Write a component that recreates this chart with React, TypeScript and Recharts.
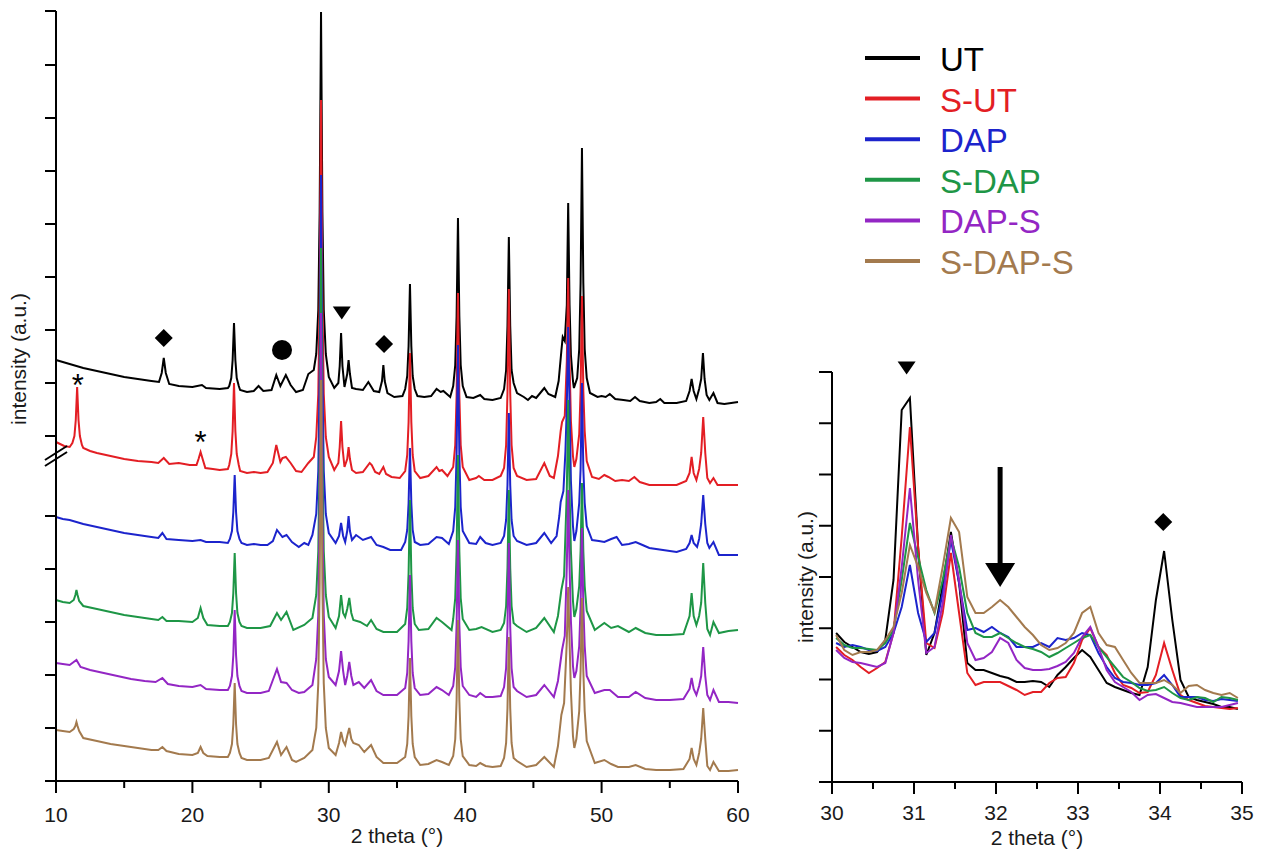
import React from 'react';
import { LineChart, Line, XAxis, YAxis, ReferenceDot, ReferenceLine, Legend } from 'recharts';

type Pt = [number, number];

const FONT = '"Liberation Sans", Arial, Helvetica, sans-serif';

const seriesNames = ['UT', 'S-UT', 'DAP', 'S-DAP', 'DAP-S', 'S-DAP-S'];
const seriesColors = ['#000000', '#e31e24', '#1c24cc', '#1e9646', '#9326c4', '#a37a4e'];

// ---------- full pattern (left panel), stacked traces, intensity in a.u. ----------
const utFull: Pt[] = [[10.0,421],[10.5,419],[11.0,417],[12.0,413],[13.0,410],[14.0,407],[15.0,404],[16.0,402],[17.0,400],[17.55,399],[17.75,408],[17.9,423],[18.05,408],[18.3,397],[19.0,395],[20.0,394],[20.7,396],[21.0,393],[22.0,392],[22.6,393],[22.7,395],[22.85,403],[22.95,421],[23.05,458],[23.15,421],[23.25,403],[23.4,395],[23.5,391],[24.0,389],[24.5,390],[24.85,395],[25.2,390],[25.8,391],[26.15,406],[26.45,395],[26.85,406],[27.2,396],[27.6,389],[28.1,391],[28.5,407],[28.9,411],[29.08,427],[29.23,471],[29.33,569],[29.43,769],[29.53,569],[29.63,471],[29.78,427],[30.0,404],[30.4,393],[30.7,398],[30.8,415],[30.9,448],[31.0,415],[31.15,394],[31.35,407],[31.45,421],[31.55,407],[31.7,393],[32.0,392],[32.5,391],[32.9,399],[33.3,390],[33.7,389],[33.9,400],[34.0,416],[34.1,400],[34.3,388],[34.8,384],[35.4,385],[35.6,392],[35.75,405],[35.85,435],[35.95,497],[36.05,435],[36.15,405],[36.3,392],[36.5,385],[37.0,384],[37.5,385],[37.9,392],[38.2,389],[38.4,390],[38.9,384],[39.12,395],[39.27,416],[39.37,465],[39.47,563],[39.57,465],[39.67,416],[39.82,395],[40.1,384],[40.6,383],[41.1,386],[41.4,382],[42.0,381],[42.6,383],[42.85,392],[43.0,411],[43.1,455],[43.2,544],[43.3,455],[43.4,411],[43.55,398],[43.8,388],[44.3,384],[44.6,381],[44.9,385],[45.2,383],[45.5,388],[45.8,393],[46.1,387],[46.6,384],[46.85,400],[47.05,430],[47.15,444],[47.3,440],[47.45,476],[47.55,578],[47.65,476],[47.75,426],[47.9,400],[47.97,393],[48.21,403],[48.36,432],[48.46,498],[48.56,633],[48.66,498],[48.76,432],[48.91,403],[49.15,388],[49.7,384],[50.0,385],[50.3,384],[50.6,387],[51.0,382],[51.6,381],[52.1,380],[52.45,384],[52.8,380],[53.5,378],[54.0,379],[54.3,382],[54.6,378],[55.5,378],[56.2,380],[56.45,390],[56.6,402],[56.75,390],[56.95,382],[57.15,392],[57.3,402],[57.43,428],[57.55,402],[57.7,386],[57.9,381],[58.2,388],[58.5,378],[59.0,377],[59.5,378],[60.0,379]];

const sutFull: Pt[] = [[10.0,339],[10.3,337],[10.6,335],[11.0,334],[11.2,338],[11.35,345],[11.45,361],[11.55,394],[11.65,361],[11.75,345],[11.9,336],[12.0,333],[12.5,330],[13.0,328],[14.0,325],[15.0,322],[16.0,320],[17.0,319],[17.5,318],[17.9,323],[18.3,317],[19.0,318],[19.8,316],[20.3,316],[20.45,322],[20.6,329],[20.75,322],[20.95,313],[21.5,312],[22.0,311],[22.6,312],[22.7,316],[22.85,327],[22.95,350],[23.05,398],[23.15,350],[23.25,327],[23.4,316],[23.5,310],[24.0,308],[24.5,309],[25.0,308],[25.5,309],[25.9,318],[26.15,336],[26.45,319],[26.6,323],[26.85,324],[27.2,318],[27.6,310],[28.0,309],[28.5,318],[28.9,324],[29.08,344],[29.23,387],[29.33,484],[29.43,681],[29.53,484],[29.63,387],[29.78,344],[30.0,324],[30.4,311],[30.7,318],[30.8,334],[30.9,360],[31.0,334],[31.15,314],[31.35,322],[31.45,334],[31.55,322],[31.7,311],[32.0,308],[32.5,309],[33.0,318],[33.15,316],[33.4,309],[33.7,307],[34.0,314],[34.2,307],[34.6,304],[35.2,303],[35.6,310],[35.75,326],[35.85,359],[35.95,428],[36.05,359],[36.15,326],[36.3,310],[36.7,303],[37.3,305],[37.9,314],[38.1,310],[38.3,311],[38.7,305],[39.12,314],[39.27,336],[39.37,386],[39.47,488],[39.57,386],[39.67,336],[39.82,314],[40.3,301],[40.8,303],[41.0,305],[41.4,301],[42.0,301],[42.6,305],[42.85,313],[43.0,336],[43.1,388],[43.2,492],[43.3,388],[43.4,336],[43.55,313],[43.8,305],[44.5,301],[45.2,302],[45.8,318],[46.2,305],[46.5,303],[46.8,325],[47.0,350],[47.1,359],[47.3,365],[47.45,420],[47.55,503],[47.65,420],[47.75,360],[47.9,325],[48.0,314],[48.15,322],[48.36,347],[48.46,390],[48.56,485],[48.66,390],[48.76,350],[48.91,320],[49.3,304],[49.8,302],[50.2,306],[50.5,304],[51.0,300],[51.5,301],[52.0,300],[52.4,304],[52.8,299],[53.5,296],[54.5,296],[55.5,296],[56.2,300],[56.45,308],[56.6,324],[56.75,308],[56.95,301],[57.15,312],[57.3,328],[57.45,364],[57.6,328],[57.75,303],[57.95,298],[58.2,303],[58.5,296],[59.0,296],[60.0,296]];

const dapFull: Pt[] = [[10.0,264],[10.5,262],[11.0,261],[12.0,257],[13.0,254],[14.0,251],[15.0,248],[16.0,246],[17.0,244],[17.5,243],[17.8,248],[18.1,242],[19.0,241],[20.0,240],[20.6,241],[21.0,239],[22.0,239],[22.6,238],[22.75,242],[22.9,250],[23.0,269],[23.1,306],[23.2,269],[23.3,250],[23.45,242],[23.6,238],[24.0,236],[24.5,237],[25.0,236],[25.5,236],[25.9,240],[26.2,251],[26.6,244],[26.9,246],[27.3,239],[27.8,234],[28.2,238],[28.5,236],[28.8,246],[29.08,267],[29.23,310],[29.33,407],[29.43,606],[29.53,407],[29.63,310],[29.78,267],[30.0,248],[30.5,238],[30.75,245],[30.9,258],[31.05,245],[31.2,239],[31.35,250],[31.45,265],[31.55,250],[31.7,241],[32.0,246],[32.5,241],[33.1,244],[33.5,236],[34.0,234],[34.5,231],[35.3,231],[35.6,239],[35.75,251],[35.85,278],[35.95,333],[36.05,278],[36.15,251],[36.3,239],[36.7,236],[37.3,237],[37.9,244],[38.3,243],[38.8,237],[39.12,250],[39.27,274],[39.37,327],[39.47,436],[39.57,327],[39.67,274],[39.82,250],[40.3,238],[40.8,237],[41.1,244],[41.5,238],[42.0,236],[42.6,238],[42.85,245],[43.0,261],[43.1,296],[43.2,368],[43.3,296],[43.4,261],[43.55,245],[43.8,240],[44.5,236],[45.2,238],[45.8,248],[46.3,238],[46.7,245],[46.9,265],[47.0,279],[47.2,290],[47.35,330],[47.45,375],[47.55,454],[47.65,375],[47.75,300],[47.9,255],[48.0,240],[48.15,250],[48.36,278],[48.46,312],[48.56,398],[48.66,312],[48.76,278],[48.91,255],[49.3,241],[49.8,240],[50.2,239],[50.7,242],[51.1,244],[51.5,236],[52.0,237],[52.5,239],[53.0,236],[53.5,233],[54.5,231],[55.5,229],[56.2,232],[56.45,238],[56.6,246],[56.75,238],[57.0,234],[57.15,242],[57.3,257],[57.45,286],[57.6,257],[57.75,238],[57.9,233],[58.2,239],[58.6,226],[59.3,226],[60.0,226]];

const sdapFull: Pt[] = [[10.0,181],[10.5,179],[11.0,178],[11.3,181],[11.42,186],[11.5,191],[11.58,186],[11.7,180],[12.0,175],[13.0,172],[14.0,169],[15.0,166],[16.0,164],[17.0,162],[17.5,161],[17.8,164],[18.1,160],[19.0,160],[20.0,159],[20.4,163],[20.6,173],[20.8,163],[21.1,156],[22.0,155],[22.6,155],[22.75,159],[22.9,168],[23.0,188],[23.1,228],[23.2,188],[23.3,168],[23.45,159],[23.6,155],[24.0,153],[25.0,153],[25.7,155],[26.2,168],[26.5,161],[26.9,169],[27.4,151],[28.2,156],[28.8,163],[29.08,186],[29.23,230],[29.33,330],[29.43,533],[29.53,330],[29.63,230],[29.78,186],[30.0,164],[30.5,153],[30.75,165],[30.9,186],[31.05,168],[31.2,164],[31.35,172],[31.5,183],[31.65,168],[31.8,161],[32.3,159],[32.8,155],[33.1,161],[33.5,152],[34.0,149],[35.0,149],[35.6,157],[35.75,173],[35.85,208],[35.95,281],[36.05,208],[36.15,173],[36.3,157],[36.6,151],[37.3,152],[37.9,163],[38.3,159],[39.0,151],[39.12,162],[39.27,183],[39.37,230],[39.47,326],[39.57,230],[39.67,183],[39.82,162],[40.3,151],[40.8,152],[41.2,154],[42.0,149],[42.6,151],[42.85,158],[43.0,175],[43.1,213],[43.2,291],[43.3,213],[43.4,175],[43.55,158],[43.8,155],[44.5,149],[45.2,153],[45.8,163],[46.5,149],[46.8,165],[47.05,191],[47.25,205],[47.45,290],[47.55,381],[47.65,290],[47.75,230],[47.9,180],[48.0,164],[48.15,172],[48.36,195],[48.46,230],[48.56,298],[48.66,230],[48.76,195],[48.91,170],[49.5,151],[50.2,158],[50.7,153],[51.2,155],[52.0,149],[52.5,153],[53.2,148],[54.0,146],[55.0,146],[56.0,147],[56.45,165],[56.6,188],[56.75,165],[56.95,156],[57.15,165],[57.3,178],[57.45,218],[57.6,178],[57.75,152],[57.95,146],[58.2,159],[58.6,148],[59.3,150],[60.0,151]];

const dapsFull: Pt[] = [[10.0,118],[10.5,117],[11.0,116],[11.5,121],[11.8,114],[12.5,111],[13.5,108],[14.5,105],[15.5,102],[16.5,100],[17.3,99],[17.8,103],[18.2,97],[19.0,95],[20.0,94],[20.6,96],[21.0,92],[22.0,91],[22.6,91],[22.75,95],[22.9,105],[23.0,126],[23.1,171],[23.2,126],[23.3,105],[23.45,95],[23.6,90],[24.0,88],[25.0,88],[25.6,90],[26.2,112],[26.5,99],[26.9,98],[27.3,91],[27.8,88],[28.2,89],[28.8,96],[29.08,122],[29.23,166],[29.33,266],[29.43,468],[29.53,266],[29.63,166],[29.78,122],[30.0,104],[30.5,96],[30.75,110],[30.9,130],[31.05,110],[31.2,96],[31.35,105],[31.5,119],[31.65,105],[31.8,96],[32.2,99],[32.6,93],[33.1,101],[33.5,90],[34.0,86],[35.0,86],[35.6,93],[35.75,108],[35.85,140],[35.95,206],[36.05,140],[36.15,108],[36.3,93],[36.7,86],[37.3,87],[37.9,94],[38.3,91],[38.8,86],[39.12,95],[39.27,114],[39.37,156],[39.47,241],[39.57,156],[39.67,114],[39.82,95],[40.3,86],[40.8,84],[41.1,88],[41.5,84],[42.0,84],[42.6,85],[42.85,94],[43.0,113],[43.1,154],[43.2,238],[43.3,154],[43.4,113],[43.55,94],[43.8,90],[44.5,84],[45.2,86],[45.8,96],[46.5,84],[46.8,100],[47.1,131],[47.3,145],[47.45,215],[47.55,291],[47.65,215],[47.75,160],[47.9,115],[48.0,103],[48.15,110],[48.36,135],[48.46,175],[48.56,253],[48.66,175],[48.76,135],[48.91,105],[49.5,88],[50.2,91],[50.6,91],[51.2,84],[52.0,84],[52.5,89],[53.2,83],[54.0,81],[55.0,81],[56.0,82],[56.45,92],[56.6,103],[56.75,92],[56.95,86],[57.15,95],[57.3,105],[57.45,134],[57.6,105],[57.75,86],[57.95,81],[58.2,91],[58.6,79],[59.3,79],[60.0,78]];

const sdapsFull: Pt[] = [[10.0,51],[10.5,50],[11.0,49],[11.3,52],[11.42,55],[11.5,59],[11.58,55],[11.7,50],[12.0,43],[13.0,40],[14.0,37],[15.0,35],[16.0,33],[17.0,31],[17.5,31],[17.8,34],[18.1,30],[19.0,27],[20.0,26],[20.4,28],[20.6,34],[20.8,28],[21.1,25],[22.0,24],[22.6,24],[22.75,28],[22.9,37],[23.0,57],[23.1,98],[23.2,57],[23.3,37],[23.45,28],[23.6,23],[24.0,21],[25.0,21],[25.6,23],[26.2,39],[26.5,26],[26.9,34],[27.3,21],[27.6,19],[28.2,23],[28.8,31],[29.08,53],[29.23,98],[29.33,198],[29.43,401],[29.53,198],[29.63,98],[29.78,53],[30.0,33],[30.5,26],[30.75,38],[30.9,49],[31.05,40],[31.2,36],[31.35,45],[31.5,53],[31.65,42],[31.8,38],[32.2,36],[32.6,29],[33.1,36],[33.5,24],[34.0,18],[35.0,18],[35.6,24],[35.75,37],[35.85,65],[35.95,123],[36.05,65],[36.15,37],[36.3,24],[36.7,16],[37.3,17],[37.9,21],[38.3,19],[38.8,16],[39.12,25],[39.27,42],[39.37,81],[39.47,161],[39.57,81],[39.67,42],[39.82,25],[40.3,16],[40.8,15],[41.1,18],[41.5,15],[42.0,14],[42.6,15],[42.85,23],[43.0,38],[43.1,73],[43.2,144],[43.3,73],[43.4,38],[43.55,23],[43.8,20],[44.5,14],[45.2,16],[45.8,24],[46.5,14],[46.8,35],[47.05,66],[47.25,78],[47.45,140],[47.55,194],[47.65,140],[47.75,90],[47.9,45],[48.0,33],[48.15,42],[48.36,70],[48.46,110],[48.56,183],[48.66,110],[48.76,70],[48.91,40],[49.5,18],[50.2,21],[50.7,17],[51.2,14],[52.0,14],[52.5,16],[53.2,12],[54.0,11],[55.0,11],[56.0,12],[56.45,22],[56.6,33],[56.75,22],[56.95,16],[57.15,28],[57.3,42],[57.45,73],[57.6,42],[57.75,15],[57.95,11],[58.2,19],[58.6,10],[59.3,10],[60.0,11]];

const fullSeries: Pt[][] = [utFull, sutFull, dapFull, sdapFull, dapsFull, sdapsFull];

// ---------- zoomed region 30-35 deg (right panel) ----------
const zoomTheta = [30.05,30.15,30.25,30.35,30.45,30.55,30.65,30.75,30.85,30.95,31.05,31.15,31.25,31.35,31.45,31.55,31.65,31.75,31.85,31.95,32.05,32.15,32.25,32.35,32.45,32.55,32.65,32.75,32.85,32.95,33.05,33.15,33.25,33.35,33.45,33.55,33.65,33.75,33.85,33.95,34.05,34.15,34.25,34.35,34.45,34.55,34.65,34.75,34.85,34.95];
const utZoom = [149,140,135,130,128,130,142,202,372,384,235,127,149,197,250,199,119,112,112,109,106,104,100,100,101,100,95,107,115,124,132,125,112,99,95,92,89,87,115,182,231,162,102,85,82,80,78,75,75,73];
const sutZoom = [135,127,122,115,109,114,120,149,245,355,235,139,134,169,229,169,109,97,100,100,100,96,92,87,90,90,99,104,105,119,142,154,135,127,109,97,94,89,90,107,139,112,87,82,79,76,75,74,73,74];
const dapZoom = [139,135,137,135,132,131,135,149,175,217,169,140,149,189,242,199,152,154,150,155,149,145,135,135,135,139,135,144,142,144,149,147,129,115,104,100,99,97,97,99,107,97,85,85,85,82,81,83,82,81];
const sdapZoom = [144,137,134,134,133,132,139,152,202,259,225,192,169,202,245,215,169,149,145,145,149,144,139,135,133,130,125,129,134,139,144,147,135,125,115,105,100,94,91,92,95,89,84,82,85,84,80,85,84,82];
const dapsZoom = [132,124,120,119,117,115,119,149,215,294,202,129,135,179,247,202,139,122,124,130,144,139,122,114,112,112,113,116,120,129,145,155,135,112,100,95,90,82,87,88,84,80,79,77,75,75,75,75,77,79];
const sdapsZoom = [147,132,127,130,130,132,142,155,189,237,215,189,170,215,264,250,185,169,169,175,182,175,165,155,147,137,132,134,139,149,169,175,149,137,135,122,109,99,99,99,102,97,89,96,97,92,89,87,89,84];
const zoomSeries: number[][] = [utZoom, sutZoom, dapZoom, sdapZoom, dapsZoom, sdapsZoom];

// ---------- ticks ----------
const fullXTicks = [10, 15, 20, 25, 30, 35, 40, 45, 50, 55, 60];
const fullYTicks = [0, 53, 106, 159, 212, 265, 345, 398, 451, 504, 557, 610, 663, 716, 770];
const zoomXTicks = [30, 30.5, 31, 31.5, 32, 32.5, 33, 33.5, 34, 34.5, 35];
const zoomYTicks = [0, 51.25, 102.5, 153.75, 205, 256.25, 307.5, 358.75, 410];

const toPoints = (arr: Pt[]) => arr.map(([x, y]) => ({ x, y }));
const zoomPoints = (vals: number[]) => vals.map((y, i) => ({ x: zoomTheta[i], y }));

// ---------- renderers ----------
const makeXTick = (isMajor: (v: number) => boolean, labelDy: number) => (props: any) => {
  const { x, y, payload } = props;
  const major = isMajor(payload.value);
  return (
    <g>
      <line x1={x} x2={x} y1={y} y2={y + (major ? 12 : 7)} stroke="#000" strokeWidth={2} />
      {major && (
        <text x={x} y={y + labelDy} textAnchor="middle" fontSize={21} fontFamily={FONT} fill="#1a1a1a">
          {payload.value}
        </text>
      )}
    </g>
  );
};

const makeYTick = (len: number) => (props: any) => {
  const { x, y } = props;
  return <line x1={x - len} x2={x} y1={y} y2={y} stroke="#000" strokeWidth={2} />;
};

const makeYLabel = (dx: number, dyFromTop: number | null) => (props: any) => {
  const vb = props.viewBox || { x: 0, y: 0, width: 0, height: 0 };
  const cx = vb.x + dx;
  const cy = dyFromTop === null ? vb.y + vb.height / 2 : vb.y + dyFromTop;
  return (
    <text x={cx} y={cy} transform={`rotate(-90 ${cx} ${cy})`} textAnchor="middle" dominantBaseline="central" fontSize={21} fontFamily={FONT} fill="#1a1a1a">
      intensity (a.u.)
    </text>
  );
};

const makeXLabel = (baseline: number) => (props: any) => {
  const vb = props.viewBox || { x: 0, y: 0, width: 0, height: 0 };
  return (
    <text x={vb.x + vb.width / 2} y={vb.y + baseline} textAnchor="middle" fontSize={21} fontFamily={FONT} fill="#1a1a1a">
      2 theta (°)
    </text>
  );
};

const diamondShape = (p: any) => (
  <polygon points={`${p.cx},${p.cy - 9} ${p.cx + 9},${p.cy} ${p.cx},${p.cy + 9} ${p.cx - 9},${p.cy}`} fill="#000" />
);
const circleShape = (p: any) => <circle cx={p.cx} cy={p.cy} r={10} fill="#000" />;
const triangleShape = (p: any) => (
  <polygon points={`${p.cx - 9},${p.cy - 6.5} ${p.cx + 9},${p.cy - 6.5} ${p.cx},${p.cy + 6.5}`} fill="#000" />
);
const starShape = (p: any) => (
  <text x={p.cx} y={p.cy + 18} textAnchor="middle" fontSize={31} fontFamily={FONT} fill="#000">*</text>
);
const arrowHeadShape = (p: any) => (
  <polygon points={`${p.cx - 15},${p.cy - 12} ${p.cx + 15},${p.cy - 12} ${p.cx},${p.cy + 12}`} fill="#000" />
);

const renderLegend = () => (
  <svg width={250} height={260} style={{ display: 'block' }}>
    {seriesNames.map((name, i) => {
      const cy = 29 + i * 40.6;
      return (
        <g key={name}>
          <line x1={5} x2={60} y1={cy - 1} y2={cy - 1} stroke={seriesColors[i]} strokeWidth={4} />
          <text x={80} y={cy + 12} fontSize={33} fontFamily={FONT} fill={seriesColors[i]}>{name}</text>
        </g>
      );
    })}
  </svg>
);

export default function App() {
  return (
    <div style={{ position: 'absolute', left: 0, top: 0, width: 1267, height: 852, background: '#fff', overflow: 'hidden' }}>
      <div style={{ position: 'absolute', left: 0, top: 0 }}>
        <LineChart width={800} height={852} margin={{ top: 11, right: 62, bottom: 0, left: 0 }}>
          <XAxis
            type="number"
            dataKey="x"
            domain={[10, 60]}
            ticks={fullXTicks}
            interval={0}
            height={71}
            tickSize={0}
            tickMargin={0}
            tickLine={false}
            tick={makeXTick((v) => v % 10 === 0, 41)}
            axisLine={{ stroke: '#000', strokeWidth: 2 }}
            label={makeXLabel(62)}
          />
          <YAxis
            type="number"
            domain={[0, 770]}
            ticks={fullYTicks}
            interval={0}
            width={56}
            tickSize={0}
            tickMargin={0}
            tickLine={false}
            tick={makeYTick(11)}
            axisLine={{ stroke: '#000', strokeWidth: 2 }}
            label={makeYLabel(18, 348)}
          />
          {fullSeries.map((s, i) => (
            <Line
              key={seriesNames[i]}
              data={toPoints(s)}
              dataKey="y"
              name={seriesNames[i]}
              type="linear"
              stroke={seriesColors[i]}
              strokeWidth={2}
              dot={false}
              activeDot={false}
              isAnimationActive={false}
            />
          ))}
          <ReferenceLine segment={[{ x: 9.19, y: 321 }, { x: 10.81, y: 335 }]} stroke="#000" strokeWidth={2} ifOverflow="visible" />
          <ReferenceLine segment={[{ x: 9.19, y: 315 }, { x: 10.81, y: 329 }]} stroke="#000" strokeWidth={2} ifOverflow="visible" />
          <ReferenceDot x={17.9} y={443} shape={diamondShape} ifOverflow="visible" />
          <ReferenceDot x={26.57} y={431} shape={circleShape} ifOverflow="visible" />
          <ReferenceDot x={30.95} y={468} shape={triangleShape} ifOverflow="visible" />
          <ReferenceDot x={34.05} y={437} shape={diamondShape} ifOverflow="visible" />
          <ReferenceDot x={11.6} y={403} shape={starShape} ifOverflow="visible" />
          <ReferenceDot x={20.6} y={346} shape={starShape} ifOverflow="visible" />
        </LineChart>
      </div>
      <div style={{ position: 'absolute', left: 780, top: 0 }}>
        <LineChart width={487} height={852} margin={{ top: 372, right: 25, bottom: 0, left: 0 }}>
          <XAxis
            type="number"
            dataKey="x"
            domain={[30, 35]}
            ticks={zoomXTicks}
            interval={0}
            height={70}
            tickSize={0}
            tickMargin={0}
            tickLine={false}
            tick={makeXTick((v) => Number.isInteger(v), 38)}
            axisLine={{ stroke: '#000', strokeWidth: 2 }}
            label={makeXLabel(63)}
          />
          <YAxis
            type="number"
            domain={[0, 410]}
            ticks={zoomYTicks}
            interval={0}
            width={52}
            tickSize={0}
            tickMargin={0}
            tickLine={false}
            tick={makeYTick(13)}
            axisLine={{ stroke: '#000', strokeWidth: 2 }}
            label={makeYLabel(25, null)}
          />
          <Legend
            content={renderLegend}
            layout="vertical"
            align="center"
            verticalAlign="middle"
            wrapperStyle={{ left: 80, top: 30, width: 250, height: 260 }}
          />
          {zoomSeries.map((s, i) => (
            <Line
              key={seriesNames[i]}
              data={zoomPoints(s)}
              dataKey="y"
              name={seriesNames[i]}
              type="linear"
              stroke={seriesColors[i]}
              strokeWidth={2}
              dot={false}
              activeDot={false}
              isAnimationActive={false}
            />
          ))}
          <ReferenceDot x={30.91} y={414} shape={triangleShape} ifOverflow="visible" />
          <ReferenceLine segment={[{ x: 32.05, y: 315 }, { x: 32.05, y: 210 }]} stroke="#000" strokeWidth={5} ifOverflow="visible" />
          <ReferenceDot x={32.05} y={207} shape={arrowHeadShape} ifOverflow="visible" />
          <ReferenceDot x={34.04} y={260} shape={diamondShape} ifOverflow="visible" />
        </LineChart>
      </div>
    </div>
  );
}
